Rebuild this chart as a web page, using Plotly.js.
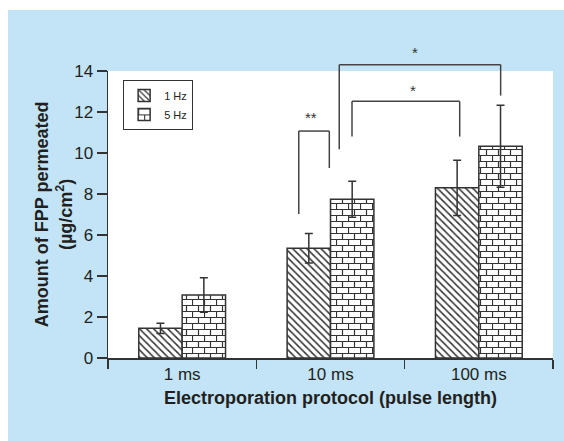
<!DOCTYPE html>
<html>
<head>
<meta charset="utf-8">
<script src="https://cdn.plot.ly/plotly-3.0.1.min.js"></script>
<style>
  html, body { margin: 0; padding: 0; background: #ffffff; width: 564px; height: 441px; overflow: hidden; }
  #chart { position: absolute; left: 8px; top: 10px; width: 556px; height: 431px; }
</style>
</head>
<body>
<div id="chart"></div>
<script>
// ---- data ----
const categories = ['1 ms', '10 ms', '100 ms'];
const seriesNames = ['1 Hz', '5 Hz'];
const hz1 = [1.45, 5.35, 8.3];
const hz1Err = [0.25, 0.72, 1.35];
const hz5 = [3.07, 7.74, 10.33];
const hz5Err = [0.84, 0.88, 2.0];
const yTicks = [0, 2, 4, 6, 8, 10, 12, 14];
const yTitle = '<b>Amount of FPP permeated<br>(µg/cm<sup>2</sup>)</b>';
const xTitle = '<b>Electroporation protocol (pulse length)</b>';

// significance brackets (x in category-index units, y in data units)
const bracketX0 = [0.786, 1.145, 1.059];
const bracketX1 = [0.992, 1.871, 2.147];
const bracketLeftY = [7.02, 10.8, 10.18];
const bracketRightY = [9.27, 10.8, 12.8];
const bracketTopY = [11.07, 12.52, 14.31];
const sigLabels = ['**', '*', '*'];
const sigX = [0.869, 1.554, 1.572];
const sigY = [11.75, 13.05, 14.9];

const yMax = 14;
const ink = '#333333';
const textColor = '#231f20';
const fontFam = 'Arial, "Liberation Sans", Helvetica, sans-serif';

const traces = [
  {
    type: 'bar', name: seriesNames[0], x: categories, y: hz1,
    marker: { color: '#ffffff', line: { color: ink, width: 1.5 },
      pattern: { shape: '\\', fgcolor: ink, bgcolor: '#ffffff', size: 5, solidity: 0.3 } },
    error_y: { type: 'data', array: hz1Err, visible: true, color: ink, thickness: 1.5, width: 4 }
  },
  {
    type: 'bar', name: seriesNames[1], x: categories, y: hz5,
    marker: { color: '#ffffff', line: { color: ink, width: 1.5 },
      pattern: { shape: '+', fgcolor: ink, bgcolor: '#ffffff', size: 13, solidity: 0.1 } },
    error_y: { type: 'data', array: hz5Err, visible: true, color: ink, thickness: 1.5, width: 4 }
  }
];

const shapes = [];
const annotations = [];
for (let i = 0; i < sigLabels.length; i++) {
  const line = { color: '#444444', width: 1.5 };
  shapes.push({ type: 'line', xref: 'x', yref: 'paper', x0: bracketX0[i], x1: bracketX0[i],
    y0: bracketLeftY[i] / yMax, y1: bracketTopY[i] / yMax, line: line });
  shapes.push({ type: 'line', xref: 'x', yref: 'paper', x0: bracketX0[i], x1: bracketX1[i],
    y0: bracketTopY[i] / yMax, y1: bracketTopY[i] / yMax, line: line });
  shapes.push({ type: 'line', xref: 'x', yref: 'paper', x0: bracketX1[i], x1: bracketX1[i],
    y0: bracketRightY[i] / yMax, y1: bracketTopY[i] / yMax, line: line });
  annotations.push({ xref: 'x', yref: 'paper', x: sigX[i], y: sigY[i] / yMax, text: sigLabels[i],
    showarrow: false, xanchor: 'center', yanchor: 'middle',
    font: { family: fontFam, size: 15, color: '#333333' } });
}
// y-axis title as a rotated annotation for exact placement
annotations.push({ xref: 'paper', yref: 'paper', x: -0.122, y: 0.5, text: yTitle,
  textangle: -90, showarrow: false, xanchor: 'center', yanchor: 'middle',
  font: { family: fontFam, size: 18, color: textColor } });

const layout = {
  width: 556, height: 431,
  margin: { l: 100, r: 11, t: 61, b: 83 },
  paper_bgcolor: '#c2e4f6',
  plot_bgcolor: '#ffffff',
  barmode: 'group',
  bargap: 0.415,
  bargroupgap: 0,
  showlegend: true,
  font: { family: fontFam, color: textColor },
  xaxis: {
    type: 'category',
    tickson: 'boundaries',
    ticks: 'outside', ticklen: 9, tickwidth: 1.5, tickcolor: ink,
    showline: true, linecolor: ink, linewidth: 1.5,
    showgrid: false, zeroline: false,
    tickfont: { size: 17, color: textColor },
    title: { text: xTitle, font: { size: 18, color: textColor }, standoff: 8 }
  },
  yaxis: {
    range: [0, yMax],
    tickvals: yTicks,
    ticks: 'outside', ticklen: 10, tickwidth: 1.5, tickcolor: ink,
    showline: true, linecolor: ink, linewidth: 1.5,
    showgrid: false, zeroline: false,
    tickfont: { size: 17, color: textColor }
  },
  legend: {
    x: 0.034, y: 0.969, xanchor: 'left', yanchor: 'top',
    bgcolor: '#ffffff', bordercolor: ink, borderwidth: 1,
    font: { size: 11, color: textColor },
    itemwidth: 30, tracegroupgap: 0
  },
  shapes: shapes,
  annotations: annotations
};

function patternIdOf(el) {
  const s = (el.getAttribute('style') || '') + ' ' + (el.getAttribute('fill') || '');
  const m = s.match(/url\(\s*['"]?#([^'")\s]+)/);
  return m ? m[1] : null;
}

function brickify(gd) {
  const ns = 'http://www.w3.org/2000/svg';
  const ids = new Set();
  const barTraces = gd.querySelectorAll('.barlayer .trace');
  if (barTraces[1]) barTraces[1].querySelectorAll('path').forEach(function (p) {
    const id = patternIdOf(p); if (id) ids.add(id);
  });
  const legTraces = gd.querySelectorAll('.legend .traces');
  if (legTraces[1]) legTraces[1].querySelectorAll('path').forEach(function (p) {
    const id = patternIdOf(p); if (id) ids.add(id);
  });
  gd.querySelectorAll('pattern').forEach(function (p) {
    const w = parseFloat(p.getAttribute('width'));
    if (ids.has(p.id) || w >= 11.5) {
      while (p.firstChild) p.removeChild(p.firstChild);
      p.setAttribute('width', '12');
      p.setAttribute('height', '12');
      p.removeAttribute('patternTransform');
      const bg = document.createElementNS(ns, 'rect');
      bg.setAttribute('width', '12'); bg.setAttribute('height', '12');
      bg.setAttribute('fill', '#ffffff');
      p.appendChild(bg);
      const path = document.createElementNS(ns, 'path');
      path.setAttribute('d', 'M0,0.5H12M0,6.5H12M0.5,0V6.5M6.5,6.5V12');
      path.setAttribute('stroke', ink);
      path.setAttribute('stroke-width', '1.2');
      path.setAttribute('fill', 'none');
      p.appendChild(path);
    }
  });
}

Plotly.newPlot('chart', traces, layout, { displayModeBar: false, staticPlot: true }).then(function (gd) {
  brickify(gd);
});
</script>
</body>
</html>
